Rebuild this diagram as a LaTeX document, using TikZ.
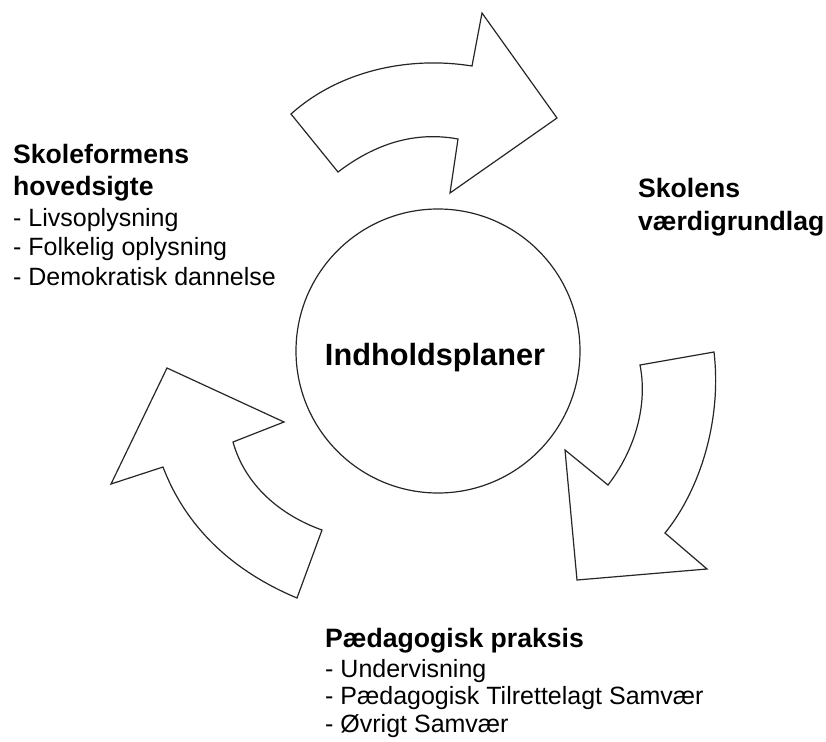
\documentclass[tikz,border=0pt]{standalone}
\usepackage{fontspec}
\setmainfont{Liberation Sans}
\begin{document}
\begin{tikzpicture}[x=1bp,y=-1bp,
  shapeline/.style={draw=black!85,line width=1.2bp,line join=miter,fill=white},
  headtxt/.style={anchor=base west,inner sep=0pt,font=\fontsize{26.6bp}{32bp}\selectfont\bfseries},
  itemtxt/.style={anchor=base west,inner sep=0pt,font=\fontsize{25bp}{30bp}\selectfont},
  centretxt/.style={anchor=base,inner sep=0pt,font=\fontsize{30.7bp}{36bp}\selectfont\bfseries}]
\useasboundingbox (0,0) rectangle (826,742);
% centre circle
\node[circle,draw=black!85,line width=1.2bp,minimum size=284bp,inner sep=0pt] (hub) at (438,351) {};
\node[centretxt] (hubtxt) at (435,365) {Indholdsplaner};
% top arrow
\draw[shapeline] (291,114) -- (338,172)
  .. controls (380,140) and (420,132) .. (458,139)
  -- (450,193) -- (557,118) -- (482,13) -- (472,66)
  .. controls (410,56) and (340,70) .. (291,114) -- cycle;
% right arrow
\draw[shapeline] (640,365) -- (714,352)
  .. controls (722,420) and (700,490) .. (665,533)
  -- (707,569) -- (577,580) -- (565,450) -- (608,485)
  .. controls (635,450) and (648,405) .. (640,365) -- cycle;
% left arrow
\draw[shapeline] (167,368) -- (284,422) -- (233,442)
  .. controls (245,485) and (280,515) .. (322,530)
  -- (297,598)
  .. controls (230,570) and (185,525) .. (163,467)
  -- (111,484) -- cycle;
% left text block
\node[headtxt] (l1) at (13,163) {Skoleformens};
\node[headtxt] (l2) at (13,195) {hovedsigte};
\node[itemtxt] (l3) at (13,226) {- Livsoplysning};
\node[itemtxt] (l4) at (13,255) {- Folkelig oplysning};
\node[itemtxt] (l5) at (13,285) {- Demokratisk dannelse};
% right text block
\node[headtxt] (r1) at (638,197) {Skolens};
\node[headtxt] (r2) at (638,230) {værdigrundlag};
% bottom text block
\node[headtxt] (b1) at (325,647) {Pædagogisk praksis};
\node[itemtxt] (b2) at (325,677) {- Undervisning};
\node[itemtxt] (b3) at (325,704) {- Pædagogisk Tilrettelagt Samvær};
\node[itemtxt] (b4) at (325,732) {- Øvrigt Samvær};
\end{tikzpicture}
\end{document}
